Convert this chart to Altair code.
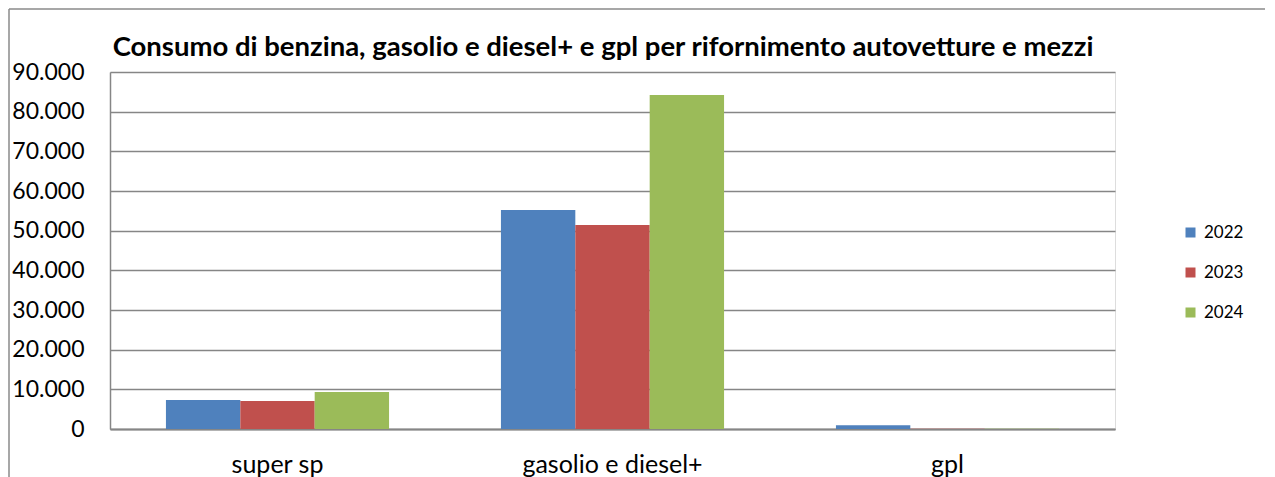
import altair as alt
import pandas as pd

categories = ["super sp", "gasolio e diesel+", "gpl"]
years = ["2022", "2023", "2024"]
values_2022 = [7300, 55200, 950]
values_2023 = [7050, 51400, 80]
values_2024 = [9350, 84200, 60]
colors = ["#4F81BD", "#C0504D", "#9BBB59"]
title_text = "Consumo di benzina, gasolio e diesel+ e gpl per rifornimento autovetture e mezzi"

rows = []
for yr, vals in zip(years, [values_2022, values_2023, values_2024]):
    for c, v in zip(categories, vals):
        rows.append({"categoria": c, "anno": yr, "valore": v})
df = pd.DataFrame(rows)

FONT = "Lato"
GRID = "#868686"

bars = alt.Chart(df).mark_bar().encode(
    x=alt.X("categoria:N", sort=categories,
            scale=alt.Scale(paddingInner=0.334, paddingOuter=0.167),
            axis=alt.Axis(title=None, labelAngle=0, labelFontSize=25, labelFont=FONT,
                          labelColor="#000000", labelPadding=23, ticks=False,
                          labelLimit=500, domainColor=GRID, domainWidth=2)),
    xOffset=alt.XOffset("anno:N", sort=years, scale=alt.Scale(paddingInner=0, paddingOuter=0)),
    y=alt.Y("valore:Q",
            scale=alt.Scale(domain=[0, 90000], nice=False),
            axis=alt.Axis(title=None, values=list(range(0, 90001, 10000)),
                          labelExpr="replace(format(datum.value, ','), ',', '.')",
                          labelFontSize=23, labelFont=FONT, labelColor="#000000",
                          labelPadding=26, ticks=False, grid=True, gridColor=GRID,
                          gridWidth=1.6, domainColor=GRID, domainWidth=1.5)),
    color=alt.Color("anno:N", sort=years,
                    scale=alt.Scale(domain=years, range=colors),
                    legend=alt.Legend(title=None, orient="none", legendX=1072, legendY=152,
                                      symbolType="square", symbolSize=100,
                                      symbolStrokeWidth=0, labelFontSize=17,
                                      labelFont=FONT, labelColor="#000000",
                                      rowPadding=22, labelOffset=5)),
)

title_mark = alt.Chart().mark_text(
    text=title_text, font=FONT, fontSize=27.5, fontWeight="bold", color="#000000",
    align="center", baseline="alphabetic"
).encode(x=alt.value(493), y=alt.value(-16))

border_left = alt.Chart().mark_rule(color="#8a8a8a", strokeWidth=1.5).encode(
    x=alt.value(-101), y=alt.value(-63), y2=alt.value(420))
border_top = alt.Chart().mark_rule(color="#8a8a8a", strokeWidth=1.5).encode(
    x=alt.value(-101), x2=alt.value(1160), y=alt.value(-63))

chart = alt.layer(bars, title_mark, border_left, border_top).properties(
    width=1005, height=357,
    padding={"left": 102, "top": 64, "right": 150, "bottom": 48},
    autosize=alt.AutoSizeParams(type="none"),
).configure_view(stroke=None).configure(background="#ffffff")

chart.save("out.html", embed_options={"renderer": "svg", "actions": False})
